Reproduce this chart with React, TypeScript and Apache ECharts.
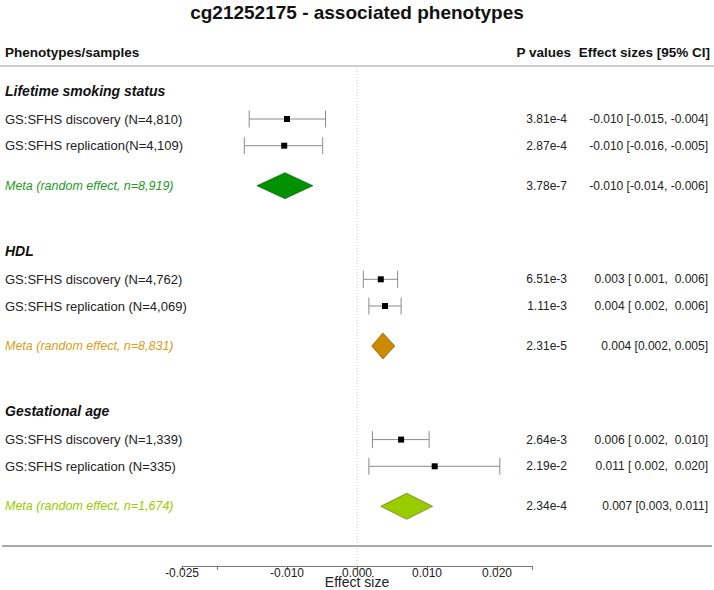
import React, { useEffect, useRef } from "react";
import * as echarts from "echarts";

const chartTitle = "cg21252175 - associated phenotypes";
const headerLabels = ["Phenotypes/samples", "P values", "Effect sizes [95% CI]"];
const axisTitle = "Effect size";
const groupNames = ["Lifetime smoking status", "HDL", "Gestational age"];
const studyLabels = [
  ["GS:SFHS discovery (N=4,810)", "GS:SFHS replication(N=4,109)"],
  ["GS:SFHS discovery (N=4,762)", "GS:SFHS replication (N=4,069)"],
  ["GS:SFHS discovery (N=1,339)", "GS:SFHS replication (N=335)"],
];
const studyEst = [[-0.01, -0.0104], [0.0034, 0.004], [0.0063, 0.0111]];
const studyLo = [[-0.0154, -0.0161], [0.0009, 0.0017], [0.0022, 0.0017]];
const studyHi = [[-0.0045, -0.0049], [0.0058, 0.0063], [0.0103, 0.0204]];
const studyP = [["3.81e-4", "2.87e-4"], ["6.51e-3", "1.11e-3"], ["2.64e-3", "2.19e-2"]];
const studyCI = [
  ["-0.010 [-0.015, -0.004]", "-0.010 [-0.016, -0.005]"],
  ["0.003 [ 0.001,  0.006]", "0.004 [ 0.002,  0.006]"],
  ["0.006 [ 0.002,  0.010]", "0.011 [ 0.002,  0.020]"],
];
const metaLabels = [
  "Meta (random effect, n=8,919)",
  "Meta (random effect, n=8,831)",
  "Meta (random effect, n=1,674)",
];
const metaEst = [-0.0103, 0.0037, 0.0071];
const metaLo = [-0.0143, 0.0021, 0.0034];
const metaHi = [-0.0063, 0.0054, 0.0108];
const metaP = ["3.78e-7", "2.31e-5", "2.34e-4"];
const metaCI = ["-0.010 [-0.014, -0.006]", "0.004 [0.002, 0.005]", "0.007 [0.003, 0.011]"];
const metaTextColors = ["#1f9a1f", "#d6a01c", "#99cc00"];
const metaFillColors = ["#009100", "#cc8a00", "#99cc00"];
const metaStrokeColors = ["#006000", "#6b4a00", "#4f6a00"];
const axisLabelValues = [-0.025, -0.01, 0, 0.01, 0.02];
const axisTickValues = [-0.025, -0.02, -0.01, 0, 0.01, 0.02, 0.025];

// layout (pixels)
const W = 714;
const H = 590;
const AXIS_Y = 566;
const ROW0 = 119;
const GROUP_STEP = 160.3;
const ROW_STEP = 26.7;
const META_OFFSET = 66.7;
const HEAD_OFFSET = -28.5;
const FONT = "Liberation Sans, Arial, sans-serif";

export default function App() {
  const ref = useRef<HTMLDivElement>(null);
  useEffect(() => {
    if (!ref.current) return;
    const chart = echarts.init(ref.current, undefined, { renderer: "svg" });

    const studyData: any[] = [];
    const metaData: any[] = [];
    const graphics: any[] = [];
    const txt = (text: string, x: number, y: number, font: string, fill: string, align = "left") => ({
      type: "text",
      x,
      y,
      silent: true,
      style: { text, font, fill, textAlign: align, textVerticalAlign: "middle" },
    });

    graphics.push(txt(chartTitle, W / 2, 12, `bold 19px ${FONT}`, "#111", "center"));
    graphics.push(txt(headerLabels[0], 5, 52, `bold 13.5px ${FONT}`, "#111"));
    graphics.push(txt(headerLabels[1], 571, 52, `bold 13.5px ${FONT}`, "#111", "right"));
    graphics.push(txt(headerLabels[2], 710, 52, `bold 13.5px ${FONT}`, "#111", "right"));
    graphics.push(txt(axisTitle, W / 2, 582, `14px ${FONT}`, "#222", "center"));
    graphics.push({
      type: "line",
      silent: true,
      shape: { x1: 0, y1: 66, x2: W, y2: 66 },
      style: { stroke: "#cfcfcf", lineWidth: 2 },
    });
    graphics.push({
      type: "line",
      silent: true,
      shape: { x1: 2, y1: 546, x2: W - 2, y2: 546 },
      style: { stroke: "#8c8c8c", lineWidth: 1.5 },
    });

    groupNames.forEach((g, gi) => {
      const r0 = ROW0 + gi * GROUP_STEP;
      graphics.push(txt(g, 5, r0 + HEAD_OFFSET, `italic bold 14px ${FONT}`, "#111"));
      studyLabels[gi].forEach((lab, si) => {
        const y = r0 + si * ROW_STEP;
        graphics.push(txt(lab, 5, y, `13px ${FONT}`, "#222"));
        graphics.push(txt(studyP[gi][si], 567, y, `12px ${FONT}`, "#222", "right"));
        graphics.push(txt(studyCI[gi][si], 708, y, `12px ${FONT}`, "#222", "right"));
        studyData.push([studyEst[gi][si], studyLo[gi][si], studyHi[gi][si], y]);
      });
      const my = r0 + META_OFFSET;
      graphics.push(txt(metaLabels[gi], 5, my, `italic 12.5px ${FONT}`, metaTextColors[gi]));
      graphics.push(txt(metaP[gi], 567, my, `12px ${FONT}`, "#222", "right"));
      graphics.push(txt(metaCI[gi], 708, my, `12px ${FONT}`, "#222", "right"));
      metaData.push([metaEst[gi], metaLo[gi], metaHi[gi], my, gi]);
    });

    const option: any = {
      animation: false,
      grid: { left: 182, right: 182, top: 0, height: AXIS_Y, containLabel: false, outerBoundsMode: "none" },
      xAxis: {
        type: "value",
        position: "bottom",
        min: -0.025,
        max: 0.025,
        axisLine: { show: true, onZero: false, lineStyle: { color: "#777", width: 1 } },
        axisTick: { show: true, customValues: axisTickValues, length: 4, lineStyle: { color: "#777" } },
        axisLabel: {
          customValues: axisLabelValues,
          formatter: (v: number) => v.toFixed(3),
          margin: 1,
          fontSize: 12,
          fontFamily: FONT,
          color: "#222",
        },
        splitLine: { show: false },
      },
      yAxis: { type: "value", min: 0, max: AXIS_Y, inverse: true, show: false },
      graphic: graphics,
      series: [
        {
          type: "line",
          data: [[0, 68], [0, 565]],
          symbol: "none",
          lineStyle: { color: "#c4c4c4", type: [1, 2], width: 1 },
          silent: true,
          z: 1,
        },
        {
          type: "custom",
          data: studyData,
          z: 3,
          renderItem: (params: any, api: any) => {
            const est = api.value(0);
            const lo = api.value(1);
            const hi = api.value(2);
            const y = api.value(3);
            const pE = api.coord([est, y]);
            const pL = api.coord([lo, y]);
            const pH = api.coord([hi, y]);
            const s = { stroke: "#8a8a8a", lineWidth: 1 };
            const cap = 8.5;
            return {
              type: "group",
              children: [
                { type: "line", shape: { x1: pL[0], y1: pL[1], x2: pH[0], y2: pH[1] }, style: s },
                { type: "line", shape: { x1: pL[0], y1: pL[1] - cap, x2: pL[0], y2: pL[1] + cap }, style: s },
                { type: "line", shape: { x1: pH[0], y1: pH[1] - cap, x2: pH[0], y2: pH[1] + cap }, style: s },
                { type: "rect", shape: { x: pE[0] - 3, y: pE[1] - 3, width: 6, height: 6 }, style: { fill: "#000" } },
              ],
            };
          },
        },
        {
          type: "custom",
          data: metaData,
          z: 3,
          renderItem: (params: any, api: any) => {
            const est = api.value(0);
            const lo = api.value(1);
            const hi = api.value(2);
            const y = api.value(3);
            const gi = api.value(4);
            const pE = api.coord([est, y]);
            const pL = api.coord([lo, y]);
            const pH = api.coord([hi, y]);
            const h = 13;
            return {
              type: "polygon",
              shape: {
                points: [
                  [pL[0], pL[1]],
                  [pE[0], pE[1] - h],
                  [pH[0], pH[1]],
                  [pE[0], pE[1] + h],
                ],
              },
              style: { fill: metaFillColors[gi], stroke: metaStrokeColors[gi], lineWidth: 0.6 },
            };
          },
        },
      ],
    };
    chart.setOption(option);
    return () => chart.dispose();
  }, []);

  return (
    <div
      ref={ref}
      style={{ position: "fixed", left: 0, top: 0, width: W, height: H, background: "#fff" }}
    />
  );
}
